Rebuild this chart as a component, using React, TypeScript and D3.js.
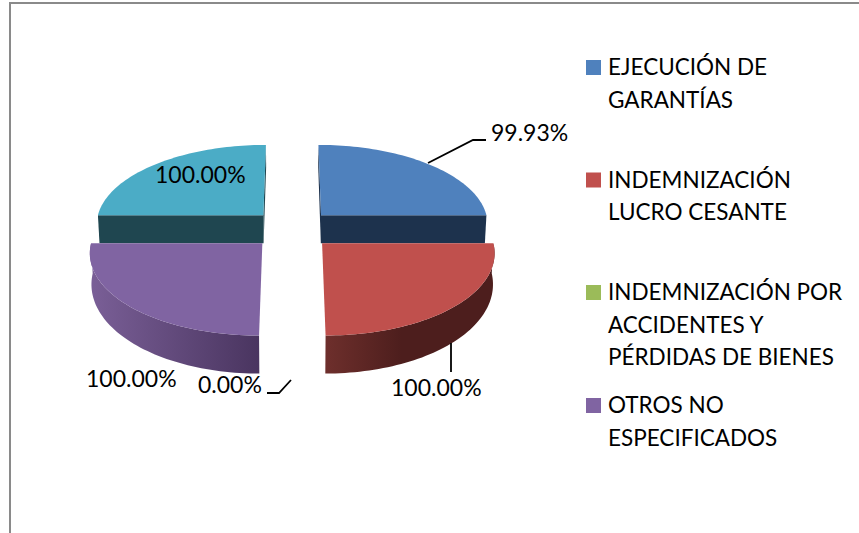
import React from 'react';
import * as d3 from 'd3';

const WIDTH = 859;
const HEIGHT = 533;

// the fifth slice has no name in the legend of the original
const categories = ['EJECUCIÓN DE GARANTÍAS', 'INDEMNIZACIÓN LUCRO CESANTE', 'INDEMNIZACIÓN POR ACCIDENTES Y PÉRDIDAS DE BIENES', 'OTROS NO ESPECIFICADOS', ''];
const values = [99.93, 100, 0, 100, 100];
const valueLabels = ['99.93%', '100.00%', '0.00%', '100.00%', '100.00%'];
const legendLines = [['EJECUCIÓN DE', 'GARANTÍAS'], ['INDEMNIZACIÓN', 'LUCRO CESANTE'], ['INDEMNIZACIÓN POR', 'ACCIDENTES Y', 'PÉRDIDAS DE BIENES'], ['OTROS NO', 'ESPECIFICADOS']];
const colors = ['#4f81bd', '#c0504d', '#9bbb59', '#8064a2', '#4bacc6'];
const wallDark = ['#1d324d', '#4d1e1d', '#3f4f24', '#4a3560', '#1f4650'];
const wallLight = ['#1d324d', '#6e2f2c', '#3f4f24', '#7a5f97', '#1f4650'];

// label anchors and leader lines, in pixels
const labelX = [491, 391, 198, 86, 155];
const labelY = [141, 396, 393, 387, 183];
const leaders: [number, number][][] = [
  [[428, 163], [473, 140], [486, 140]],
  [[451, 343], [451, 372]],
  [[267, 393], [279, 393], [291, 380]],
];
const legendBaselines = [75, 187.5, 300, 413];

const FONT = 'Lato, sans-serif';
const LABEL_SIZE = 23;
const LEGEND_SIZE = 22.5;

// perspective of the tilted pie
const CX = 292.2;
const HORIZON = -571;
const PLANE = 800;
const CAMERA = 1682;
const RADIUS = 168.3;
const EXPLODE = 41.5;

const project = (wx: number, wy: number, lower: boolean): [number, number] => {
  const s = CAMERA / (CAMERA - wy);
  const y = HORIZON + PLANE * s;
  if (!lower) return [CX + wx * s, y];
  const drop = 28 + (y - 215) * (10 / 120);
  return [CX + wx * s * 0.992, y + drop];
};

const line = d3.line();
const pie = d3.pie<number>().sort(null).value(d => d);

const App = () => {
  const arcs = pie(values);
  const order = d3.range(arcs.length).sort((a, b) => {
    const mid = (i: number) => (arcs[i].startAngle + arcs[i].endAngle) / 2;
    return Math.cos(mid(b)) - Math.cos(mid(a));
  });

  const slice = (i: number) => {
    const { startAngle: a0, endAngle: a1 } = arcs[i];
    if (a1 - a0 < 1e-6) return null;
    const mid = (a0 + a1) / 2;
    const ox = EXPLODE * Math.sin(mid);
    const oy = -EXPLODE * Math.cos(mid);
    const rim = (a: number, lower: boolean) => project(ox + RADIUS * Math.sin(a), oy - RADIUS * Math.cos(a), lower);
    const center = (lower: boolean) => project(ox, oy, lower);
    const angles = d3.range(0, 61).map(k => a0 + ((a1 - a0) * k) / 60);
    const back = Math.cos(mid) > 0;

    const top = line([center(false), ...angles.map(a => rim(a, false))]) + 'Z';
    const wall = line([...angles.map(a => rim(a, false)), ...angles.slice().reverse().map(a => rim(a, true))]) + 'Z';
    const radial = (a: number) => line([center(false), rim(a, false), rim(a, true), center(true)]) + 'Z';

    return (
      <g key={i}>
        {back && <path d={radial(a0)} fill={wallDark[i]} />}
        {back && <path d={radial(a1)} fill={wallDark[i]} />}
        {!back && <path d={wall} fill={`url(#wall${i})`} />}
        <path d={top} fill={colors[i]} />
      </g>
    );
  };

  return (
    <svg width={WIDTH} height={HEIGHT} style={{ position: 'absolute', left: 0, top: 0, display: 'block' }}>
      <defs>
        <linearGradient id="wall1" gradientUnits="userSpaceOnUse" x1={325} x2={495} y1={0} y2={0}>
          <stop offset="0" stopColor={wallLight[1]} />
          <stop offset="0.45" stopColor={wallDark[1]} />
          <stop offset="1" stopColor={wallDark[1]} />
        </linearGradient>
        <linearGradient id="wall3" gradientUnits="userSpaceOnUse" x1={90} x2={258} y1={0} y2={0}>
          <stop offset="0" stopColor={wallLight[3]} />
          <stop offset="1" stopColor={wallDark[3]} />
        </linearGradient>
      </defs>

      <path d={`M${WIDTH},3H10V${HEIGHT}`} fill="none" stroke="#8a8a8a" strokeWidth={2} />

      {order.map(slice)}

      {leaders.map((pts, i) => (
        <path key={i} d={line(pts) ?? ''} fill="none" stroke="#000" strokeWidth={1.8} />
      ))}

      {valueLabels.map((t, i) => (
        <text key={categories[i] + i} x={labelX[i]} y={labelY[i]} fontFamily={FONT} fontSize={LABEL_SIZE} fill="#000">{t}</text>
      ))}

      {legendLines.map((lines, i) => (
        <g key={i}>
          <rect x={586} y={legendBaselines[i] - 15} width={15} height={15} fill={colors[i]} />
          {lines.map((t, j) => (
            <text key={j} x={608} y={legendBaselines[i] + j * 32.7} fontFamily={FONT} fontSize={LEGEND_SIZE} fill="#000">{t}</text>
          ))}
        </g>
      ))}
    </svg>
  );
};

export default App;
